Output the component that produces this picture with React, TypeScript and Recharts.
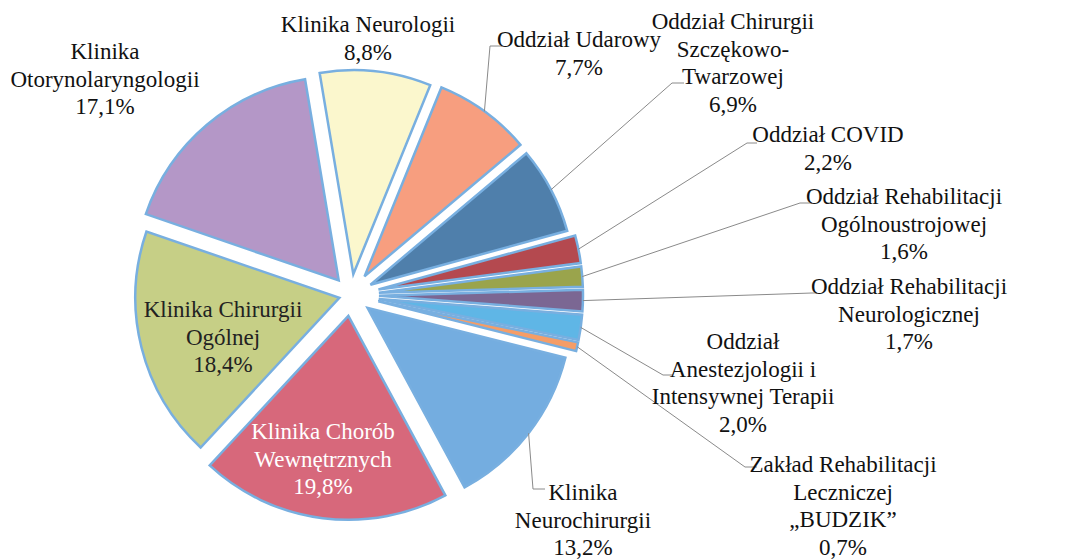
import { PieChart, Pie, Cell, Sector } from 'recharts'

// udział procentowy oddziałów, zgodnie z ruchem wskazówek zegara od góry
const labels = [
  'Klinika Neurologii',
  'Oddział Udarowy',
  'Oddział Chirurgii\nSzczękowo-\nTwarzowej',
  'Oddział COVID',
  'Oddział Rehabilitacji\nOgólnoustrojowej',
  'Oddział Rehabilitacji\nNeurologicznej',
  'Oddział\nAnestezjologii i\nIntensywnej Terapii',
  'Zakład Rehabilitacji\nLeczniczej\n„BUDZIK”',
  'Klinika\nNeurochirurgii',
  'Klinika Chorób\nWewnętrznych',
  'Klinika Chirurgii\nOgólnej',
  'Klinika\nOtorynolaryngologii',
]
const shares = [8.8, 7.7, 6.9, 2.2, 1.6, 1.7, 2.0, 0.7, 13.2, 19.8, 18.4, 17.1]
const colors = [
  '#fbf7cd', '#f79e7f', '#4f7fab', '#b4494f', '#9aa44c', '#7b6793',
  '#5fb6e6', '#f59d67', '#74ade0', '#d7687b', '#c6cf86', '#b497c7',
]

// wysunięcie wycinków (px)
const explode = [21, 23, 22, 28, 28, 28, 28, 28, 21, 21, 12, 19]

// rozmieszczenie etykiet: środek tekstu, linia bazowa pierwszego wiersza, łamanie linii odniesienia
const labelPos: { x: number; y: number; elbow?: [number, number]; tick?: number; fill?: string }[] = [
  { x: 368, y: 32 },
  { x: 579, y: 47, elbow: [490, 46], tick: 502 },
  { x: 733, y: 29, elbow: [672, 83], tick: 684 },
  { x: 828, y: 142, elbow: [747, 143], tick: 757 },
  { x: 904, y: 204, elbow: [800, 203], tick: 812 },
  { x: 909, y: 294, elbow: [812, 293], tick: 817 },
  { x: 743, y: 349, elbow: [663, 375], tick: 673 },
  { x: 843, y: 472, elbow: [745, 467], tick: 757 },
  { x: 583, y: 500, elbow: [533, 489], tick: 545 },
  { x: 323, y: 439, fill: '#ffffff' },
  { x: 223, y: 317, fill: '#222222' },
  { x: 105, y: 59 },
]

const data = labels.map((name, i) => ({ name, value: shares[i] }))

const RAD = Math.PI / 180
const LINE = 27.6
const fmt = (v: number) => v.toFixed(1).replace('.', ',') + '%'

const ExplodedSector = (props: any) => {
  const d = explode[props.index] ?? 0
  const a = -props.midAngle * RAD
  return (
    <Sector
      {...props}
      cx={props.cx + d * Math.cos(a)}
      cy={props.cy + d * Math.sin(a)}
    />
  )
}

// linie odniesienia liczone z geometrii wycinka
const renderLeader = (p: any) => {
  const i = p.index
  const L = labelPos[i]
  if (!L.elbow) return <g key={`ld-${i}`} />
  const a = -p.midAngle * RAD
  const r = p.outerRadius + explode[i]
  const sx = p.cx + r * Math.cos(a)
  const sy = p.cy + r * Math.sin(a)
  return (
    <polyline
      key={`ld-${i}`}
      points={`${sx},${sy} ${L.elbow[0]},${L.elbow[1]} ${L.tick},${L.elbow[1]}`}
      fill="none"
      stroke="#8a8a8a"
      strokeWidth={1}
    />
  )
}

const App = () => {
  return (
    <div style={{ position: 'relative', width: 1070, height: 560, background: '#fff' }}>
      <style>{'body{margin:0}'}</style>
      <PieChart width={1070} height={560} margin={{ top: 0, right: 0, bottom: 0, left: 0 }}>
        <Pie
          data={data}
          dataKey="value"
          nameKey="name"
          cx={351}
          cy={295}
          outerRadius={204}
          startAngle={99.5}
          endAngle={-260.5}
          stroke="#78afe0"
          strokeWidth={2.5}
          shape={ExplodedSector}
          label={renderLeader}
          labelLine={false}
          isAnimationActive={false}
        >
          {data.map((entry, index) => (
            <Cell key={`cell-${index}`} fill={colors[index]} />
          ))}
        </Pie>
      </PieChart>
      <svg
        width={1070}
        height={560}
        style={{ position: 'absolute', left: 0, top: 0, pointerEvents: 'none' }}
      >
        {labels.map((name, i) => {
          const L = labelPos[i]
          const lines = [...name.split('\n'), fmt(shares[i])]
          return lines.map((t, k) => (
            <text
              key={`t-${i}-${k}`}
              x={L.x}
              y={L.y + k * LINE}
              textAnchor="middle"
              style={{ fontFamily: 'Tinos', fontSize: 23 }}
              fill={L.fill ?? '#111111'}
            >
              {t}
            </text>
          ))
        })}
      </svg>
    </div>
  )
}

export default App
